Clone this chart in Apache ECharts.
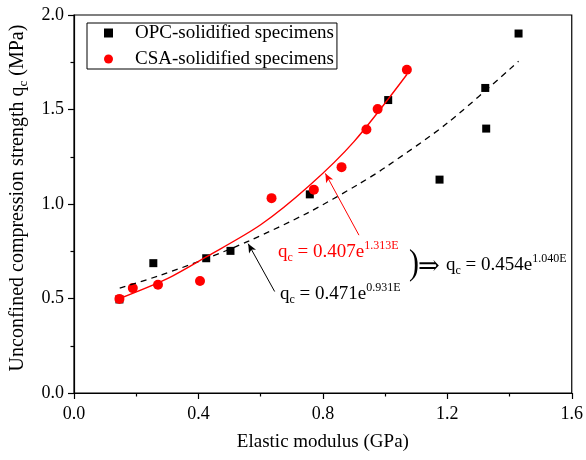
<!DOCTYPE html>
<html lang="en">
<head>
    <meta charset="utf-8">
    <title>qc vs E</title>
    <script src="https://cdn.jsdelivr.net/npm/echarts@6/dist/echarts.min.js"></script>
    <style>
        html, body { margin: 0; padding: 0; background: #fff; }
        #main { width: 586px; height: 460px; }
    </style>
</head>
<body>
<div id="main"></div>

<script type="text/javascript">
    // measured points (E in GPa, qc in MPa)
    var opcPoints = [
        [0.146, 0.495], [0.255, 0.687], [0.425, 0.713], [0.503, 0.752], [0.758, 1.051],
        [1.010, 1.550], [1.175, 1.129], [1.322, 1.614], [1.325, 1.399], [1.429, 1.902]
    ];
    var csaPoints = [
        [0.146, 0.498], [0.189, 0.555], [0.270, 0.573], [0.405, 0.593], [0.635, 1.031],
        [0.771, 1.076], [0.860, 1.195], [0.940, 1.394], [0.976, 1.502], [1.070, 1.710]
    ];
    // fitted curves
    var csaFit = [
        [0.147, 0.50], [0.30, 0.605], [0.425, 0.72], [0.60, 0.89], [0.755, 1.095], [0.90, 1.33], [1.07, 1.685]
    ];
    var opcFit = [
        [0.147, 0.555], [0.276, 0.622], [0.425, 0.711], [0.563, 0.805], [0.75, 0.952],
        [0.914, 1.104], [1.0, 1.193], [1.2, 1.428], [1.429, 1.755]
    ];
    // annotation arrows: [from, to]
    var csaArrow = [[0.916, 0.835], [0.808, 1.162]];
    var opcArrow = [[0.645, 0.537], [0.560, 0.790]];

    var seriesNames = ['OPC-solidified specimens', 'CSA-solidified specimens'];
    var xTicks = { min: 0, max: 1.6, step: 0.4 };
    var yTicks = { min: 0, max: 2.0, step: 0.5 };

    var FONT = '"Liberation Serif", "Times New Roman", serif';
    var RED = '#ff0000';

    var myChart = echarts.init(document.getElementById('main'));

    function axisCommon() {
        return {
            axisLine: { lineStyle: { color: '#000', width: 1.2 } },
            axisTick: { inside: false, length: 6, lineStyle: { color: '#000', width: 1.2 } },
            minorTick: { show: true, splitNumber: 2, length: 3.5, lineStyle: { color: '#000', width: 1.2 } },
            splitLine: { show: false },
            axisLabel: { color: '#000', fontFamily: FONT, fontSize: 18,
                formatter: function (v) { return v.toFixed(1); } }
        };
    }

    var xAxis = axisCommon();
    xAxis.type = 'value';
    xAxis.min = xTicks.min; xAxis.max = xTicks.max; xAxis.interval = xTicks.step;
    xAxis.axisLabel.margin = 12;
    xAxis.name = 'Elastic modulus (GPa)';
    xAxis.nameLocation = 'middle';
    xAxis.nameGap = 40;
    xAxis.nameTextStyle = { color: '#000', fontFamily: FONT, fontSize: 19 };

    var yAxis = axisCommon();
    yAxis.type = 'value';
    yAxis.min = yTicks.min; yAxis.max = yTicks.max; yAxis.interval = yTicks.step;
    yAxis.axisLabel.margin = 10;
    yAxis.name = '{a|Unconfined compression strength q}{s|c}{a| (MPa)}';
    yAxis.nameLocation = 'middle';
    yAxis.nameGap = 44;
    yAxis.nameTextStyle = {
        color: '#000', fontFamily: FONT, fontSize: 20,
        padding: [0, 0, 0, 12],
        rich: {
            a: { color: '#000', fontFamily: FONT, fontSize: 20, lineHeight: 24 },
            s: { color: '#000', fontFamily: FONT, fontSize: 13, lineHeight: 12, verticalAlign: 'bottom' }
        }
    };

    function eqRich(color) {
        return {
            m: { fill: color, fontFamily: FONT, fontSize: 19, lineHeight: 24 },
            sb: { fill: color, fontFamily: FONT, fontSize: 12, lineHeight: 12, verticalAlign: 'bottom' },
            sp: { fill: color, fontFamily: FONT, fontSize: 12, lineHeight: 12, verticalAlign: 'top' }
        };
    }

    myChart.setOption({
        animation: false,
        grid: { left: 73, right: 11, top: 15, bottom: 67, show: true, borderColor: '#000', borderWidth: 1.2 },
        legend: {
            orient: 'vertical',
            left: 87, top: 23,
            padding: [0, 3, 0, 17],
            itemGap: 6,
            itemWidth: 9, itemHeight: 9,
            borderColor: '#000', borderWidth: 1,
            textStyle: { color: '#000', fontFamily: FONT, fontSize: 19, lineHeight: 20, padding: [0, 0, 0, 17] },
            data: seriesNames
        },
        xAxis: xAxis,
        yAxis: yAxis,
        series: [{
            name: 'OPC fit',
            type: 'line',
            data: opcFit,
            smooth: 0.3,
            showSymbol: false,
            silent: true,
            lineStyle: { color: '#000', width: 1.3, type: [6, 5] },
            markLine: {
                silent: true,
                symbol: ['none', 'arrow'],
                symbolSize: [6, 9],
                label: { show: false },
                lineStyle: { color: '#000', width: 1, type: 'solid' },
                data: [[{ coord: opcArrow[0] }, { coord: opcArrow[1] }]]
            }
        }, {
            name: 'CSA fit',
            type: 'line',
            data: csaFit,
            smooth: 0.3,
            showSymbol: false,
            silent: true,
            lineStyle: { color: RED, width: 1.4 },
            markLine: {
                silent: true,
                symbol: ['none', 'arrow'],
                symbolSize: [6, 9],
                label: { show: false },
                lineStyle: { color: RED, width: 1, type: 'solid' },
                data: [[{ coord: csaArrow[0] }, { coord: csaArrow[1] }]]
            }
        }, {
            name: seriesNames[0],
            type: 'scatter',
            symbol: 'rect',
            symbolSize: 8,
            itemStyle: { color: '#000', opacity: 1 },
            data: opcPoints
        }, {
            name: seriesNames[1],
            type: 'scatter',
            symbol: 'circle',
            symbolSize: 10,
            itemStyle: { color: RED, opacity: 1 },
            data: csaPoints
        }],
        graphic: [{
            type: 'text', x: 278, y: 240,
            style: { text: '{m|q}{sb|c}{m| = 0.407e}{sp|1.313E}', rich: eqRich(RED), fill: RED, verticalAlign: 'top' }
        }, {
            type: 'text', x: 280, y: 282,
            style: { text: '{m|q}{sb|c}{m| = 0.471e}{sp|0.931E}', rich: eqRich('#000'), fill: '#000', verticalAlign: 'top' }
        }, {
            type: 'text', x: 409, y: 265, scaleY: 1.2, originX: 0, originY: 0,
            style: { text: ')', fill: '#000', font: '30px ' + FONT, verticalAlign: 'middle' }
        }, {
            type: 'text', x: 418, y: 267,
            style: { text: '\u21D2', fill: '#000', font: '26px "DejaVu Serif", "DejaVu Sans"', verticalAlign: 'middle' }
        }, {
            type: 'text', x: 446, y: 253,
            style: { text: '{m|q}{sb|c}{m| = 0.454e}{sp|1.040E}', rich: eqRich('#000'), fill: '#000', verticalAlign: 'top' }
        }]
    });
</script>
</body>
</html>
